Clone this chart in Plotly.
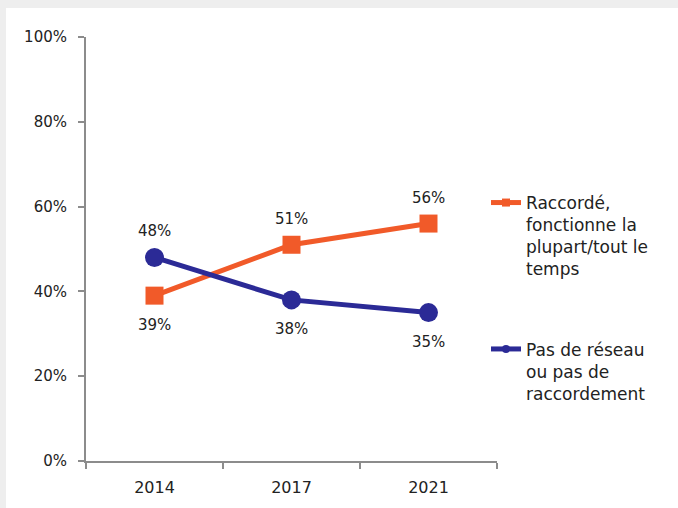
import plotly.graph_objects as go

years = ["2014", "2017", "2021"]
raccorde = [39, 51, 56]
pas_reseau = [48, 38, 35]
raccorde_above = [False, True, True]
pas_reseau_above = [True, False, False]
y_ticks = [0, 20, 40, 60, 80, 100]
y_labels = ["0%", "20%", "40%", "60%", "80%", "100%"]
name_a = "Raccordé,<br>fonctionne la<br>plupart/tout le<br>temps"
name_b = "Pas de réseau<br>ou pas de<br>raccordement"

ORANGE = "#F15A29"
NAVY = "#2B2A96"
FONT = "DejaVu Sans"
TXT = "#222222"

fig = go.Figure()
fig.add_trace(go.Scatter(
    x=years, y=raccorde, mode="lines+markers", showlegend=False,
    line=dict(color=ORANGE, width=5),
    marker=dict(symbol="square", size=18, color=ORANGE), cliponaxis=False,
))
fig.add_trace(go.Scatter(
    x=years, y=pas_reseau, mode="lines+markers", showlegend=False,
    line=dict(color=NAVY, width=5),
    marker=dict(symbol="circle", size=19, color=NAVY), cliponaxis=False,
))
# legend-only entries (smaller markers, as in the reference)
fig.add_trace(go.Scatter(
    x=[None], y=[None], mode="lines+markers", name=name_a, legendgroup="a",
    line=dict(color=ORANGE, width=5), marker=dict(symbol="square", size=8, color=ORANGE),
))
fig.add_trace(go.Scatter(
    x=[None], y=[None], mode="lines+markers", name=name_b, legendgroup="b",
    line=dict(color=NAVY, width=5), marker=dict(symbol="circle", size=8, color=NAVY),
))

for vals, above in ((raccorde, raccorde_above), (pas_reseau, pas_reseau_above)):
    for i, (v, up) in enumerate(zip(vals, above)):
        # category axis: annotation x is the category index
        fig.add_annotation(x=i, y=v, text=f"{v}%", showarrow=False,
                           xanchor="center", yanchor="middle",
                           yshift=26 if up else -29,
                           font=dict(family=FONT, size=15, color=TXT))

L, R, T, B = 86, 181, 37, 47
W, H = 678, 508
pw, ph = W - L - R, H - T - B

fig.add_shape(type="rect", xref="paper", yref="paper",
              x0=(6 - L) / pw, x1=(W - L) / pw,
              y0=-B / ph, y1=(H - B - 8) / ph,
              fillcolor="white", line=dict(width=0), layer="below")

fig.update_layout(
    width=W, height=H,
    margin=dict(l=L, r=R, t=T, b=B),
    paper_bgcolor="#EEEEEE", plot_bgcolor="rgba(0,0,0,0)",
    font=dict(family=FONT, size=15, color=TXT),
    showlegend=True,
    legend=dict(x=(486 - L) / pw, xanchor="left", y=(H - B - 185) / ph, yanchor="top",
                valign="top", tracegroupgap=55, bgcolor="rgba(0,0,0,0)",
                font=dict(family=FONT, size=17, color=TXT)),
    xaxis=dict(type="category", range=[-0.5, 2.5], showgrid=False, zeroline=False,
               showline=True, linecolor="#8C8C8C", linewidth=2,
               ticks="outside", tickson="boundaries", ticklen=6, tickcolor="#8C8C8C", tickwidth=2,
               ticklabelstandoff=11, tickfont=dict(size=16)),
    yaxis=dict(range=[0, 100], tickvals=y_ticks, ticktext=y_labels, showgrid=False,
               zeroline=False, showline=True, linecolor="#8C8C8C", linewidth=2,
               ticks="outside", ticklen=6, tickcolor="#8C8C8C", tickwidth=2,
               ticklabelstandoff=8, tickfont=dict(size=15)),
)

fig.write_html("out.html", config={"displayModeBar": False},
               post_script="document.body.style.margin='0';document.body.style.overflow='hidden';")
